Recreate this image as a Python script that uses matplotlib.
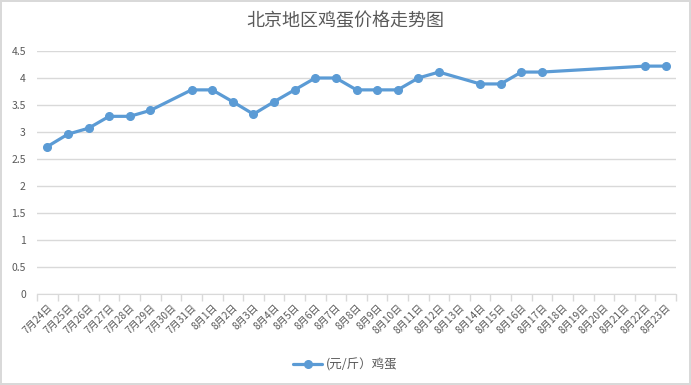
import matplotlib
matplotlib.use("Agg")
from matplotlib import pyplot as plt
import numpy as np

plt.rcParams['font.family'] = ['Noto Sans CJK SC', 'DejaVu Sans']

# 日期类目：7月24日 到 8月23日
dates = ["7月%d日" % d for d in range(24, 32)] + ["8月%d日" % d for d in range(1, 24)]

# 有数据的日期和价格（元/斤）
price_dates = ["7月24日", "7月25日", "7月26日", "7月27日", "7月28日", "7月29日",
               "7月31日", "8月1日", "8月2日", "8月3日", "8月4日", "8月5日",
               "8月6日", "8月7日", "8月8日", "8月9日", "8月10日", "8月11日",
               "8月12日", "8月14日", "8月15日", "8月16日", "8月17日",
               "8月22日", "8月23日"]
prices = [2.73, 2.96, 3.07, 3.29, 3.29, 3.40,
          3.78, 3.78, 3.56, 3.33, 3.56, 3.78,
          4.00, 4.00, 3.78, 3.78, 3.78, 4.00,
          4.11, 3.89, 3.89, 4.11, 4.11,
          4.22, 4.22]

blue = "#5B9BD5"
grid = "#D9D9D9"
txt = "#595959"

fig = plt.figure(figsize=(6.91, 3.85), dpi=100)
fig.patch.set_edgecolor(grid)
fig.patch.set_linewidth(1.5)
ax = fig.add_axes([37 / 691, 1 - 294 / 385, 639 / 691, 243 / 385])

xpos = [dates.index(d) for d in price_dates]
ax.plot(xpos, prices, color=blue, lw=2.3, marker="o", ms=5.5,
        label="(元/斤）鸡蛋", solid_capstyle="round")

ax.set_xlim(-0.5, len(dates) - 0.5)
ax.set_ylim(0, 4.5)
ax.set_yticks(np.arange(0, 4.51, 0.5))
ax.set_yticklabels(["0", "0.5", "1", "1.5", "2", "2.5", "3", "3.5", "4", "4.5"])
ax.yaxis.grid(True, color=grid, lw=1)
ax.set_axisbelow(True)

ax.set_xticks(np.arange(len(dates)))
ax.set_xticklabels(dates, rotation=45, ha="right", rotation_mode="anchor")
ax.set_xticks(np.arange(len(dates) + 1) - 0.5, minor=True)
ax.tick_params(axis="x", which="major", length=0, pad=6, labelsize=7.3, labelcolor=txt)
ax.tick_params(axis="x", which="minor", length=5, color=grid, width=1)
ax.tick_params(axis="y", length=0, labelsize=7.5, labelcolor=txt, pad=8)

for s in ["top", "right", "left"]:
    ax.spines[s].set_visible(False)
ax.spines["bottom"].set_color(grid)

fig.text(0.5, 1 - 21 / 385, "北京地区鸡蛋价格走势图", ha="center", va="center",
         fontsize=13, color=txt)
fig.legend(loc="center", bbox_to_anchor=(0.5, 1 - 365 / 385), frameon=False,
           fontsize=9, labelcolor=txt, handlelength=2.3, handletextpad=0.3)

fig.savefig("out.png", dpi=100)
